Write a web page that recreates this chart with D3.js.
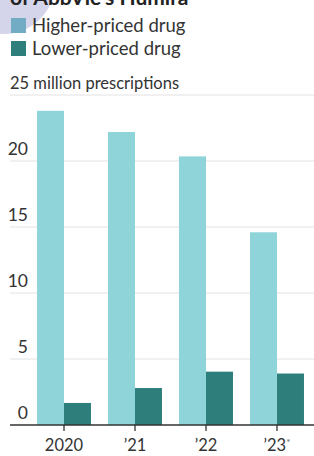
<!DOCTYPE html>
<html>
<head>
<meta charset="utf-8">
<script src="https://cdn.jsdelivr.net/npm/d3@7"></script>
<style>
  body { margin: 0; background: #fff; }
  text { font-family: Lato, "Noto Sans", sans-serif; }
</style>
</head>
<body>
<div id="chart"></div>
<script>
var years = ["2020", "’21", "’22", "’23"];
var higherPriced = [23.8, 22.2, 20.35, 14.6];
var lowerPriced = [1.67, 2.8, 4.04, 3.9];
var seriesNames = ["Higher-priced drug", "Lower-priced drug"];
var yTicks = [0, 5, 10, 15, 20, 25];

var width = 314, height = 456;
var colors = ["#8fd4d9", "#2e7e7c"];

var svg = d3.select("#chart").append("svg")
    .attr("width", width)
    .attr("height", height);

// lavender blob in the top-left corner
svg.append("circle")
    .attr("cx", 4).attr("cy", -17).attr("r", 51)
    .attr("fill", "#d4d4eb");

// title, mostly cut off
svg.append("text")
    .attr("x", 10).attr("y", 5)
    .attr("font-size", 21).attr("font-weight", "bold")
    .attr("fill", "#222")
    .text("of AbbVie’s Humira");

// legend
var legend = svg.append("g");
seriesNames.forEach(function(name, i) {
    legend.append("rect")
        .attr("x", 11).attr("y", 18 + i * 23)
        .attr("width", 15).attr("height", 15)
        .attr("fill", i == 0 ? "#72abc4" : colors[1]);
    legend.append("text")
        .attr("x", 32).attr("y", 31.5 + i * 23)
        .attr("font-size", 18.5)
        .attr("fill", "#333")
        .text(name);
});

var y = d3.scaleLinear()
    .domain([0, 25])
    .range([425, 95]);

var x = d3.scaleBand()
    .domain(years)
    .range([28.5, 312.5])
    .paddingInner(0.24)
    .paddingOuter(0.12);

var x1 = d3.scaleBand()
    .domain([0, 1])
    .range([0, x.bandwidth()]);

// gridlines
svg.append("g").selectAll("line")
    .data(yTicks.filter(function(d) { return d > 0; }))
    .enter().append("line")
    .attr("x1", 10).attr("x2", width)
    .attr("y1", function(d) { return y(d); })
    .attr("y2", function(d) { return y(d); })
    .attr("stroke", "#e2e2e2")
    .attr("stroke-width", 1);

// y labels
svg.append("g").selectAll("text")
    .data(yTicks)
    .enter().append("text")
    .attr("x", function(d) { return d == 25 ? 10 : 28; })
    .attr("y", function(d) { return y(d) - 6; })
    .attr("text-anchor", function(d) { return d == 25 ? "start" : "end"; })
    .attr("font-size", function(d) { return d == 25 ? 16.5 : 17.5; })
    .attr("fill", "#333")
    .text(function(d) { return d == 25 ? "25 million prescriptions" : d; });

// bars
var groups = svg.append("g").selectAll("g")
    .data(years)
    .enter().append("g")
    .attr("transform", function(d) { return "translate(" + x(d) + ",0)"; });

groups.selectAll("rect")
    .data(function(d, i) { return [higherPriced[i], lowerPriced[i]]; })
    .enter().append("rect")
    .attr("x", function(d, j) { return x1(j); })
    .attr("width", x1.bandwidth())
    .attr("y", function(d) { return y(d); })
    .attr("height", function(d) { return y(0) - y(d); })
    .attr("fill", function(d, j) { return colors[j]; });

// x axis
var xAxis = svg.append("g")
    .attr("transform", "translate(0," + y(0) + ")")
    .call(d3.axisBottom(x).tickSize(6).tickSizeOuter(0));
xAxis.select(".domain").remove();
xAxis.selectAll(".tick line").attr("stroke", "#333").attr("stroke-width", 1.3);
xAxis.selectAll(".tick text")
    .attr("font-family", "Lato, sans-serif")
    .attr("font-size", 16.5)
    .attr("fill", "#333")
    .attr("dy", "1.05em");
xAxis.selectAll(".tick text")
    .filter(function(d) { return d == "’23"; })
    .append("tspan")
    .attr("font-size", 10)
    .attr("dy", "-0.5em")
    .attr("fill", "#666")
    .text("*");

svg.append("line")
    .attr("x1", 10).attr("x2", width)
    .attr("y1", y(0)).attr("y2", y(0))
    .attr("stroke", "#333")
    .attr("stroke-width", 1.5);
</script>
</body>
</html>
